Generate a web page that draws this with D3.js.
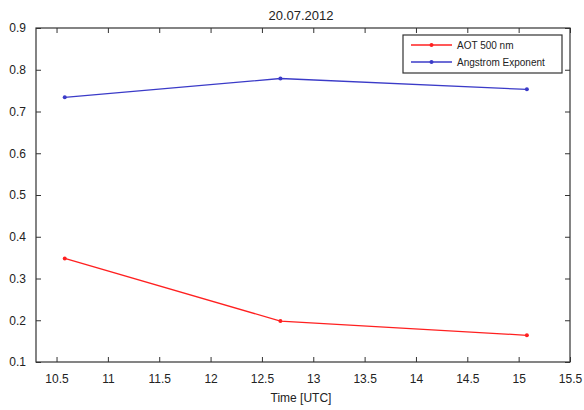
<!DOCTYPE html>
<html>
<head>
<meta charset="utf-8">
<script src="https://cdn.jsdelivr.net/npm/d3@7"></script>
<style>
  body { margin: 0; background: #fff; }
  svg { display: block; font-family: "Liberation Sans", Arial, sans-serif; }
</style>
</head>
<body>
<svg id="chart" width="584" height="410"></svg>
<script>
// Measurement times (UTC hours)
const times = [10.58, 12.68, 15.08];
// Aerosol optical thickness at 500 nm
const aot500 = [0.348, 0.198, 0.164];
// Angstrom exponent
const angstrom = [0.734, 0.779, 0.753];
const seriesNames = ["AOT 500 nm", "Angstrom Exponent"];
const seriesColors = ["#ff2020", "#3b3bc8"];
const xTicks = [10.5, 11, 11.5, 12, 12.5, 13, 13.5, 14, 14.5, 15, 15.5];
const yTicks = [0.1, 0.2, 0.3, 0.4, 0.5, 0.6, 0.7, 0.8, 0.9];

const svg = d3.select("#chart");
const m = { left: 36, right: 14, top: 28, bottom: 48 };
const W = 584, H = 410;
const x = d3.scaleLinear().domain([10.3, 15.5]).range([m.left, W - m.right]);
const y = d3.scaleLinear().domain([0.1, 0.9]).range([H - m.bottom, m.top]);

const axisColor = "#333";
const txtColor = "#222";
const tk = 5;

function styleAxis(g) {
  g.select(".domain").remove();
  g.selectAll(".tick line").attr("stroke", axisColor);
  g.selectAll(".tick text").attr("fill", txtColor).attr("font-size", 12);
}

// Bottom axis with inward ticks
svg.append("g").attr("transform", `translate(0,${y.range()[0]})`)
  .call(d3.axisBottom(x).tickValues(xTicks).tickSize(-tk).tickPadding(12).tickFormat(d3.format("")))
  .call(styleAxis);
// Top axis ticks (no labels)
svg.append("g").attr("transform", `translate(0,${y.range()[1]})`)
  .call(d3.axisTop(x).tickValues(xTicks).tickSize(-tk).tickFormat(""))
  .call(styleAxis);
// Left axis
svg.append("g").attr("transform", `translate(${x.range()[0]},0)`)
  .call(d3.axisLeft(y).tickValues(yTicks).tickSize(-tk).tickPadding(10).tickFormat(d3.format("")))
  .call(styleAxis);
// Right axis ticks
svg.append("g").attr("transform", `translate(${x.range()[1]},0)`)
  .call(d3.axisRight(y).tickValues(yTicks).tickSize(-tk).tickFormat(""))
  .call(styleAxis);

// Plot box
svg.append("rect")
  .attr("x", x.range()[0]).attr("y", y.range()[1])
  .attr("width", x.range()[1] - x.range()[0])
  .attr("height", y.range()[0] - y.range()[1])
  .attr("fill", "none").attr("stroke", axisColor).attr("stroke-width", 1.2);

// Series
const series = [aot500, angstrom];
const line = d3.line().x(d => x(d[0])).y(d => y(d[1]));
series.forEach((vals, i) => {
  const pts = times.map((t, j) => [t, vals[j]]);
  svg.append("path").datum(pts)
    .attr("d", line).attr("fill", "none")
    .attr("stroke", seriesColors[i]).attr("stroke-width", 1.3);
  svg.selectAll(null).data(pts).enter().append("circle")
    .attr("cx", d => x(d[0])).attr("cy", d => y(d[1])).attr("r", 2)
    .attr("fill", seriesColors[i]);
});

// Legend
const lg = svg.append("g");
lg.append("rect").attr("x", 403).attr("y", 35).attr("width", 159).attr("height", 38)
  .attr("fill", "#fff").attr("stroke", axisColor).attr("stroke-width", 1.2);
seriesNames.forEach((name, i) => {
  const yy = 45 + i * 17;
  lg.append("line").attr("x1", 411).attr("x2", 452).attr("y1", yy).attr("y2", yy)
    .attr("stroke", seriesColors[i]).attr("stroke-width", 1.3);
  lg.append("circle").attr("cx", 431.5).attr("cy", yy).attr("r", 2).attr("fill", seriesColors[i]);
  lg.append("text").attr("x", 457).attr("y", yy).attr("dy", "0.35em")
    .attr("font-size", 10).attr("fill", txtColor).text(name);
});

// Title and axis label
svg.append("text").attr("x", 301).attr("y", 20).attr("text-anchor", "middle")
  .attr("font-size", 13).attr("fill", txtColor).text("20.07.2012");
svg.append("text").attr("x", 301).attr("y", 402).attr("text-anchor", "middle")
  .attr("font-size", 12).attr("fill", txtColor).text("Time [UTC]");
</script>
</body>
</html>
